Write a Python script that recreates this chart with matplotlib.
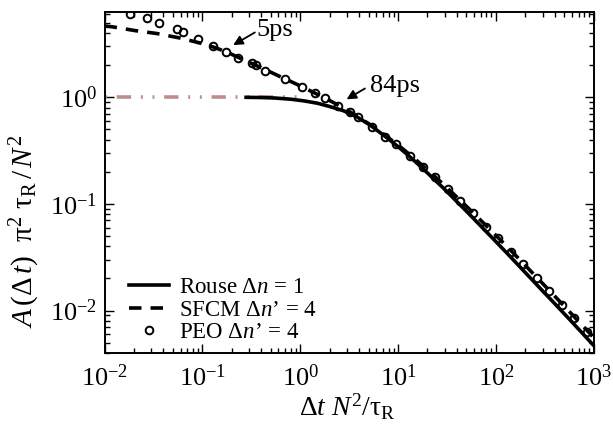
import matplotlib
matplotlib.use("Agg")
import matplotlib.pyplot as plt

# Rouse limit A*pi^2*tau_R/N^2 -> 1 at short times
limit_t = [0.01, 1.0]
limit_A = [1.0, 1.0]

# Rouse model, bond separation dn = 1
rouse_t = [0.28, 0.4, 0.55, 0.8, 1.1, 1.5, 2.0, 2.75, 3.8, 5.2, 7.5, 10, 13.2,
           16.7, 21, 30, 38, 50, 69, 90, 134, 200, 300, 400, 550, 700, 1000]
rouse_A = [1.0, 0.995, 0.985, 0.96, 0.925, 0.88, 0.82, 0.75, 0.655, 0.548,
           0.425, 0.345, 0.277, 0.228, 0.187, 0.137, 0.110, 0.0855, 0.0630,
           0.0490, 0.0335, 0.0227, 0.0153, 0.0116, 0.0085, 0.0067, 0.0047]

# SFCM, dn' = 4
sfcm_t = [0.01, 0.0119, 0.0203, 0.0347, 0.0589, 0.111, 0.174, 0.25, 0.35, 0.5,
          0.7, 1.0, 1.4, 2.0, 2.8, 3.8, 5.4, 7.4, 10, 13.5, 18, 24, 32, 43, 59,
          80, 105, 142, 190, 260, 350, 470, 630, 860, 1000]
sfcm_A = [4.66, 4.59, 4.23, 3.96, 3.60, 3.12, 2.68, 2.30, 2.00, 1.72, 1.49,
          1.28, 1.10, 0.933, 0.789, 0.667, 0.540, 0.440, 0.357, 0.285, 0.227,
          0.1795, 0.1405, 0.1086, 0.0820, 0.0622, 0.0485, 0.0366, 0.0278,
          0.0206, 0.0155, 0.01166, 0.00878, 0.00648, 0.00559]

# PEO simulation, dn' = 4
peo_t = [0.0182, 0.0275, 0.0361, 0.0545, 0.0628, 0.0906, 0.127, 0.174, 0.232,
         0.318, 0.350, 0.442, 0.703, 1.04, 1.41, 1.79, 2.45, 3.22, 3.86, 5.37,
         7.35, 9.52, 13.2, 17.9, 23.8, 32.1, 42.9, 58.7, 79.2, 104, 142, 191,
         261, 349, 471, 634, 861]
peo_A = [6.04, 5.50, 5.00, 4.34, 4.06, 3.50, 3.04, 2.68, 2.35, 2.08, 2.01,
         1.78, 1.49, 1.26, 1.10, 0.99, 0.834, 0.733, 0.650, 0.530, 0.428, 0.363,
         0.284, 0.224, 0.178, 0.137, 0.107, 0.0818, 0.0613, 0.0477, 0.0357,
         0.0272, 0.0204, 0.0153, 0.0113, 0.00849, 0.00635]

legend_labels = [r"Rouse $\mathrm{\Delta}n$ = 1",
                 r"SFCM $\mathrm{\Delta}n$’ = 4",
                 r"PEO $\mathrm{\Delta}n$’ = 4"]

plt.rcParams.update({
    "font.family": "Liberation Serif",
    "mathtext.fontset": "custom",
    "mathtext.rm": "Liberation Serif",
    "mathtext.it": "Liberation Serif:italic",
    "mathtext.bf": "Liberation Serif:bold",
    "axes.unicode_minus": False,
    "lines.scale_dashes": False,
})

fig = plt.figure(figsize=(6.13, 4.32), dpi=100)
ax = fig.add_axes([0.1705, 0.183, 0.798, 0.789])

ax.plot(limit_t, limit_A, color="#BC8F8F", lw=2.6,
        linestyle=(25.6, (10.3, 7, 1.4, 7, 1.4, 7)), zorder=2)
ax.plot(rouse_t, rouse_A, color="k", lw=2.6, label=legend_labels[0], zorder=3)
ax.plot(sfcm_t, sfcm_A, color="k", lw=2.6, dashes=(9, 6.5),
        label=legend_labels[1], zorder=3)
ax.plot(peo_t, peo_A, "o", mfc="none", mec="k", ms=5.5, mew=1.4,
        label=legend_labels[2], zorder=4)

ax.set_xscale("log")
ax.set_yscale("log")
ax.set_xlim(0.01, 1000)
ax.set_ylim(0.004, 6.3)

for s in ax.spines.values():
    s.set_linewidth(1.4)
ax.tick_params(which="both", direction="in", top=True, right=True,
               labelsize=19, width=1.0)
ax.tick_params(which="major", length=6.5)
ax.tick_params(which="minor", length=3.5)
ax.tick_params(axis="x", pad=8)
ax.tick_params(axis="y", pad=5)

ax.set_xlabel(r"$\mathrm{\Delta}t\ N^2/\mathrm{\tau}_\mathrm{R}$", fontsize=20)
ax.set_ylabel(r"$A\,(\mathrm{\Delta}\,t)\ \ \mathrm{\pi}^2\ \mathrm{\tau}_\mathrm{R}\,/\,N^2$",
              fontsize=21)
ax.xaxis.set_label_coords(0.496, -0.112)
ax.yaxis.set_label_coords(-0.127, 0.355)

arrow = dict(arrowstyle="-|>", color="k", lw=1.3, mutation_scale=14,
             shrinkA=0, shrinkB=0)
ax.annotate("", xy=(0.2066, 3.09), xytext=(0.344, 4.06), arrowprops=arrow)
ax.text(0.36, 3.75, "5ps", fontsize=19, va="baseline")
ax.annotate("", xy=(2.98, 0.958), xytext=(4.59, 1.21), arrowprops=arrow)
ax.text(5.16, 1.12, "84ps", fontsize=19, va="baseline")

ax.legend(loc="lower left", bbox_to_anchor=(0.05, 0.03), frameon=False,
          fontsize=16.5, handlelength=1.75, handletextpad=0.45,
          labelspacing=0.05, borderaxespad=0, borderpad=0)

fig.savefig("out.png", dpi=100)
